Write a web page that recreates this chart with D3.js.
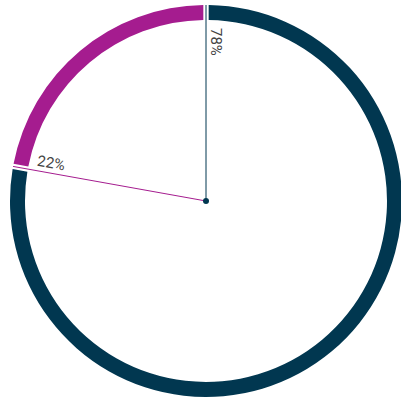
<!DOCTYPE html>
<meta charset="utf-8">
<head>
    <style>
        body { margin: 0; background: #fff; }
    </style>
</head>
<body>
    <div id="chart"></div>

    <script src="https://d3js.org/d3.v7.min.js"></script>
    <script>
        // data
        let segments = ['A', 'B'];
        let values = [78, 22];
        let labels = ['78%', '22%'];
        let colors = ['#013750', '#a51c8f'];

        let width = 401, height = 401;
        let cx = 206, cy = 201;
        let outerR = 196, innerR = 181;

        let svg = d3.select('#chart')
                    .append('svg')
                    .attr('width', width)
                    .attr('height', height)
                    .append('g')
                    .attr('transform', `translate(${cx}, ${cy})`);

        let pie = d3.pie().sort(null).padAngle(0.02);
        let arcs = pie(values);

        let arc = d3.arc().innerRadius(innerR).outerRadius(outerR);

        svg.selectAll('path.seg')
            .data(arcs)
            .enter()
            .append('path')
            .attr('class', 'seg')
            .attr('d', arc)
            .attr('fill', (d, i) => colors[i]);

        // line from center to start of each segment
        svg.selectAll('line.spoke')
            .data(arcs)
            .enter()
            .append('line')
            .attr('class', 'spoke')
            .attr('x1', 0).attr('y1', 0)
            .attr('x2', d => outerR * Math.sin(d.startAngle))
            .attr('y2', d => -outerR * Math.cos(d.startAngle))
            .attr('stroke', (d, i) => colors[i])
            .attr('stroke-width', 1);

        // labels along spokes
        let labelR = 173;
        svg.selectAll('text.lbl')
            .data(arcs)
            .enter()
            .append('text')
            .attr('class', 'lbl')
            .attr('transform', d => {
                let x = labelR * Math.sin(d.startAngle);
                let y = -labelR * Math.cos(d.startAngle);
                let rot = d.startAngle * 180 / Math.PI + 90;
                return `translate(${x}, ${y}) rotate(${rot})`;
            })
            .attr('dy', -5)
            .attr('font-family', 'Roboto, sans-serif')
            .attr('font-size', 15)
            .attr('fill', '#444')
            .text((d, i) => labels[i]);

        svg.append('circle')
            .attr('r', 3)
            .attr('fill', colors[0]);
    </script>
</body>
